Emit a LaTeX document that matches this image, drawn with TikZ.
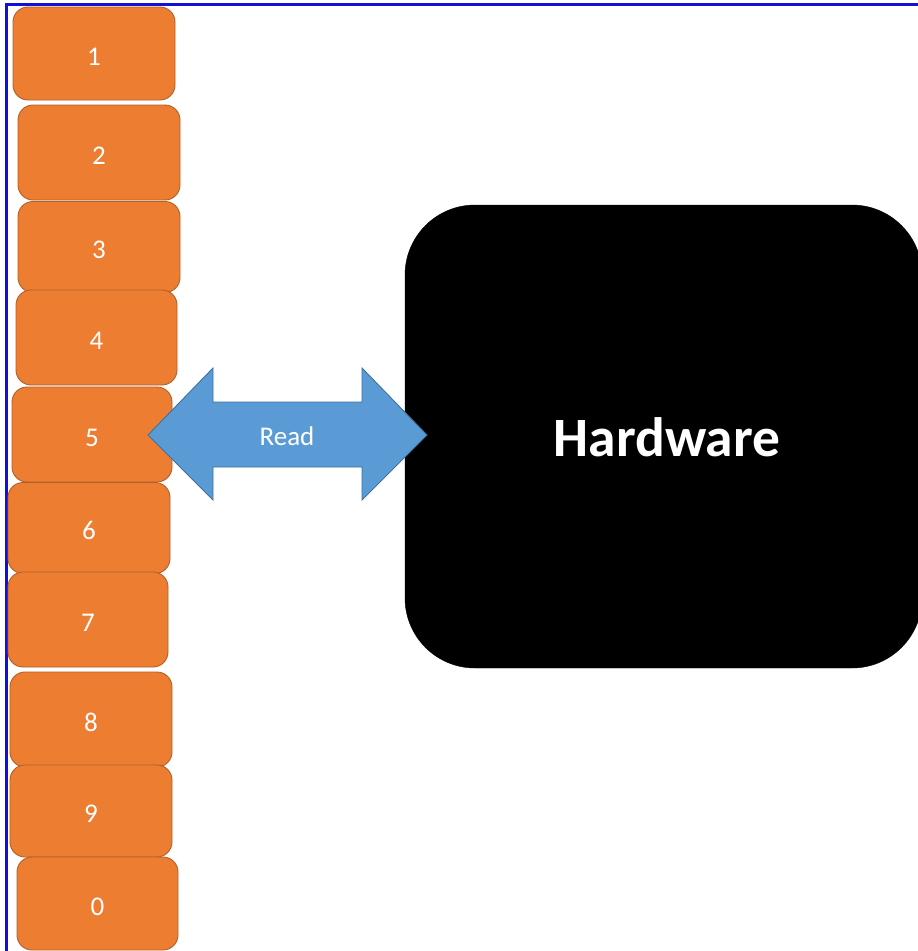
\documentclass[tikz,border=0pt]{standalone}
\usepackage{fontspec}
\setmainfont{Carlito}
\definecolor{keyfill}{HTML}{ED7D31}
\definecolor{keyline}{HTML}{B0612A}
\definecolor{arrowfill}{HTML}{5B9BD5}
\definecolor{arrowline}{HTML}{41719C}
\definecolor{frameblue}{HTML}{1010D8}
\tikzset{
  keybox/.style={draw=keyline, line width=0.9pt, fill=keyfill, rounded corners=15pt,
    text=white, font=\fontsize{27}{30}\selectfont, inner sep=0pt,
    text height=23pt, text depth=0pt},
  hwbox/.style={draw=black, fill=black, rounded corners=70pt, inner sep=0pt},
  hwlabel/.style={text=white, font=\bfseries\fontsize{55.5}{60}\selectfont, inner sep=0pt},
  readlabel/.style={text=white, font=\fontsize{27}{30}\selectfont, inner sep=0pt},
  bus/.style={draw=arrowline, line width=0.9pt, fill=arrowfill, line join=miter}
}
\begin{document}
\begin{tikzpicture}[x=1pt, y=-1pt]
\useasboundingbox (0,0) rectangle (918,951);
\fill[white] (0,0) rectangle (918,951);

% frame along the top and left edges
\draw[frameblue, line width=2.5pt] (6.5,951) -- (6.5,4.5) -- (918,4.5);

% column of numbered keys
\node[keybox, minimum width=162pt, minimum height=93pt] (k1) at (94,53.5) {1};
\node[keybox, minimum width=162pt, minimum height=95pt] (k2) at (99,152.5) {2};
\node[keybox, minimum width=162pt, minimum height=91pt] (k3) at (99,247) {3};
\node[keybox, minimum width=161pt, minimum height=95pt] (k4) at (96.5,337.5) {4};
\node[keybox, minimum width=160pt, minimum height=95pt] (k5) at (92,434.5) {5};
\node[keybox, minimum width=162pt, minimum height=91pt] (k6) at (89,528) {6};
\node[keybox, minimum width=160pt, minimum height=95pt] (k7) at (88,619.5) {7};
\node[keybox, minimum width=162pt, minimum height=95pt] (k8) at (91,719.5) {8};
\node[keybox, minimum width=162pt, minimum height=92pt] (k9) at (91,811) {9};
\node[keybox, minimum width=161pt, minimum height=93pt] (k0) at (97.5,903.5) {0};

% hardware block
\node[hwbox, minimum width=517pt, minimum height=463pt] (hw) at (663.5,436.5) {};
\node[hwlabel] (hwtext) at (667,437) {Hardware};

% two-headed block arrow between key 5 and the hardware
\coordinate (ltip) at (148,435);
\coordinate (rtip) at (427,435);
\draw[bus] (ltip) -- (213,368) -- (213,402) -- (362,402) -- (362,368) -- (rtip)
  -- (362,500) -- (362,467) -- (213,467) -- (213,500) -- cycle;
\node[readlabel] (read) at (287,436) {Read};
\end{tikzpicture}
\end{document}
